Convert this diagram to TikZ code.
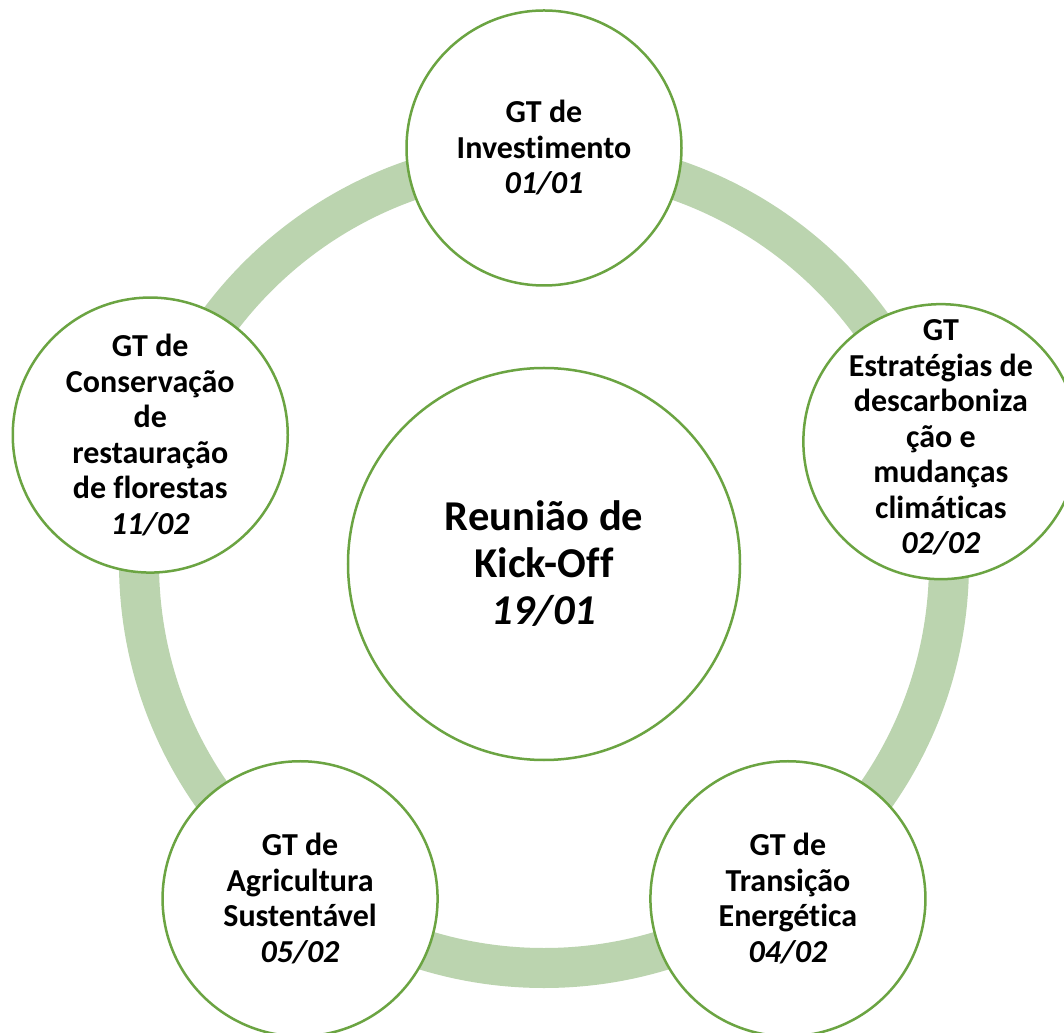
\documentclass[tikz,border=0pt]{standalone}
\usepackage{fontspec}
\setmainfont{Carlito}[Ligatures=NoCommon]
\usepackage{xcolor}
\definecolor{ringgreen}{RGB}{187,212,175}
\definecolor{edgegreen}{RGB}{107,164,66}

\begin{document}
\begin{tikzpicture}[x=1pt, y=1pt,
  ring/.style={draw=ringgreen, line width=40pt},
  gtcircle/.style={circle, draw=edgegreen, line width=2.5pt, fill=white,
                   minimum size=275pt, inner sep=0pt},
  kickcircle/.style={circle, draw=edgegreen, line width=2.5pt, fill=white,
                     minimum size=392pt, inner sep=0pt},
  gttext/.style={align=center, inner sep=0pt,
                 font=\fontsize{32}{35.5}\selectfont\bfseries},
  kicktext/.style={align=center, inner sep=0pt,
                   font=\fontsize{42.5}{47}\selectfont\bfseries}]
\clip (-544,-469) rectangle (520,563);
\fill[white] (-544,-469) rectangle (520,563);

% the ring behind the circles
\draw[ring] (0,0) circle (405);

% centre
\node[kickcircle] (kickoff) at (0,-1) {};
\node[kicktext] (kickofftxt) at (kickoff) {Reunião de\\Kick-Off\\\textit{19/01}};

% the five working groups
\node[gtcircle] (invest) at (90:415) {};
\node[gttext] (investtxt) at (invest) {GT de\\Investimento\\\textit{01/01}};

\node[gtcircle] (descarb) at (17:415) {};
\node[gttext] (descarbtxt) at ([yshift=4pt]descarb) {GT\\Estratégias de\\descarboniza\\ção e\\mudanças\\climáticas\\\textit{02/02}};

\node[gtcircle] (transicao) at (-54:415) {};
\node[gttext] (transicaotxt) at (transicao) {GT de\\Transição\\Energética\\\textit{04/02}};

\node[gtcircle] (agric) at (-126:415) {};
\node[gttext] (agrictxt) at (agric) {GT de\\Agricultura\\Sustentável\\\textit{05/02}};

\node[gtcircle] (conserv) at (162:414) {};
\node[gttext] (conservtxt) at (conserv) {GT de\\Conservação\\de\\restauração\\de florestas\\\textit{11/02}};
\end{tikzpicture}
\end{document}
